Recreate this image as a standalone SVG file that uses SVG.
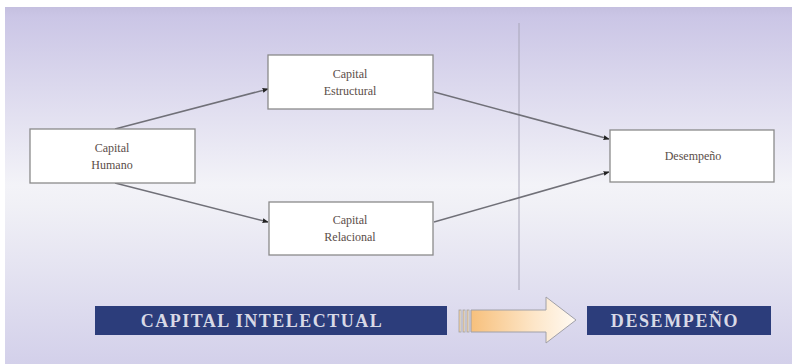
<svg xmlns="http://www.w3.org/2000/svg" width="792" height="364" viewBox="0 0 792 364">
  <defs>
    <linearGradient id="bg" x1="0" y1="0" x2="0" y2="1">
      <stop offset="0" stop-color="#c5c0e0"/>
      <stop offset="0.03" stop-color="#cbc6e6"/>
      <stop offset="0.5" stop-color="#f3f3f8"/>
      <stop offset="0.56" stop-color="#f0f0f6"/>
      <stop offset="1" stop-color="#d3d0ea"/>
    </linearGradient>
    <linearGradient id="arr" x1="0" y1="0" x2="1" y2="0">
      <stop offset="0" stop-color="#f7c07c"/>
      <stop offset="0.6" stop-color="#fde6c8"/>
      <stop offset="1" stop-color="#fffaf3"/>
    </linearGradient>
    <marker id="ah" viewBox="0 0 10 10" refX="9" refY="5" markerWidth="6" markerHeight="6" orient="auto" markerUnits="userSpaceOnUse">
      <path d="M0,1 L10,5 L0,9 z" fill="#222"/>
    </marker>
    <style>
      .box { fill: #ffffff; stroke: #8a8a8a; stroke-width: 1.3; }
      .lbl { font-family: "Liberation Serif", "Times New Roman", serif; font-size: 12px; fill: #5a4d48; text-anchor: middle; }
      .conn { stroke: #707078; stroke-width: 1.5; fill: none; marker-end: url(#ah); }
      .ban { fill: #2c3d7b; }
      .btxt { font-family: "Liberation Serif", "Times New Roman", serif; font-size: 18px; font-weight: bold; fill: #d8d9e6; text-anchor: middle; }
    </style>
  </defs>

  <rect x="0" y="0" width="792" height="364" fill="#ffffff"/>
  <rect x="5" y="7" width="787" height="357" fill="url(#bg)"/>
  <line x1="519" y1="23" x2="519" y2="290" stroke="#a8a6b8" stroke-width="1"/>

  <g id="connectors">
    <line class="conn" x1="115" y1="129" x2="268" y2="89"/>
    <line class="conn" x1="115" y1="183" x2="268" y2="222"/>
    <line class="conn" x1="434" y1="92" x2="609" y2="139"/>
    <line class="conn" x1="434" y1="222" x2="609" y2="172"/>
  </g>

  <g id="humano">
    <rect class="box" x="30" y="129" width="165" height="54"/>
    <text class="lbl" x="112" y="152">Capital</text>
    <text class="lbl" x="112" y="169">Humano</text>
  </g>
  <g id="estructural">
    <rect class="box" x="268" y="55" width="165" height="54"/>
    <text class="lbl" x="350" y="78">Capital</text>
    <text class="lbl" x="350" y="95">Estructural</text>
  </g>
  <g id="relacional">
    <rect class="box" x="269" y="202" width="164" height="53"/>
    <text class="lbl" x="350" y="224">Capital</text>
    <text class="lbl" x="350" y="241">Relacional</text>
  </g>
  <g id="desempeno">
    <rect class="box" x="610" y="130" width="164" height="52"/>
    <text class="lbl" x="693" y="160">Desempeño</text>
  </g>

  <g id="banner-ci">
    <rect class="ban" x="95" y="306" width="352" height="29"/>
    <text class="btxt" x="262" y="327" letter-spacing="1.5">CAPITAL INTELECTUAL</text>
  </g>
  <g id="big-arrow">
    <rect x="459" y="310" width="2" height="22" fill="url(#arr)" stroke="#a0a0a0" stroke-width="0.8"/>
    <rect x="463" y="310" width="2" height="22" fill="url(#arr)" stroke="#a0a0a0" stroke-width="0.8"/>
    <rect x="467" y="310" width="2" height="22" fill="url(#arr)" stroke="#a0a0a0" stroke-width="0.8"/>
    <path d="M471,310 L546,310 L546,297 L576,320 L546,343 L546,332 L471,332 Z" fill="url(#arr)" stroke="#a0a0a8" stroke-width="1"/>
  </g>
  <g id="banner-d">
    <rect class="ban" x="587" y="306" width="184" height="29"/>
    <text class="btxt" x="675" y="327" letter-spacing="1.6">DESEMPEÑO</text>
  </g>
</svg>
